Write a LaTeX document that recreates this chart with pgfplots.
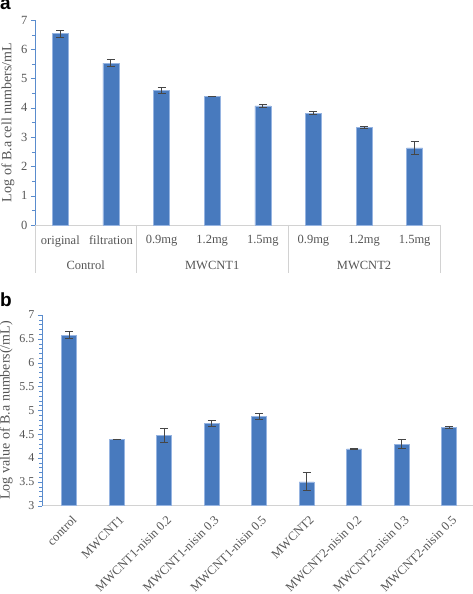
\documentclass[border=0pt]{standalone}
\usepackage{pgfplots}
\pgfplotsset{compat=1.18}
\usepackage{fontspec}
\setmainfont{Liberation Serif}
\newfontfamily\labelfont{Liberation Sans}
\definecolor{barblue}{RGB}{72,122,190}
\definecolor{baredge}{RGB}{150,180,225}
\definecolor{axblue}{RGB}{90,140,205}
\definecolor{txtgray}{RGB}{85,85,85}
\definecolor{errgray}{RGB}{70,70,70}
\definecolor{sepgray}{RGB}{210,210,210}
\begin{document}
\begin{tikzpicture}
\path[use as bounding box] (0pt,0pt) rectangle (473pt,594pt);
\node[anchor=base west,inner sep=0pt,font=\labelfont\bfseries\fontsize{19}{19}\selectfont] at (0pt,584pt) {a};
\node[anchor=base west,inner sep=0pt,font=\labelfont\bfseries\fontsize{19}{19}\selectfont] at (0pt,287pt) {b};
\pgfplotsset{
  common/.style={
    scale only axis,
    ybar, bar width=16pt,
    axis x line*=bottom, axis y line*=left,
    x axis line style={sepgray,-}, y axis line style={axblue,-},
    xtick style={draw=none},
    ytick style={axblue},
    tick align=outside,
    major tick length=4pt, minor tick length=3pt,
    tick label style={txtgray},
    /pgf/number format/assume math mode=true,
    ylabel style={txtgray},
    error bars/error bar style={errgray,line width=0.9pt},
    error bars/error mark options={rotate=90,errgray,mark size=4pt,line width=0.9pt},
  }
}
% Panel a
\begin{axis}[common,
  at={(35pt,369pt)}, anchor=south west,
  width=405pt, height=205pt,
  xmin=-0.5, xmax=7.5, ymin=0, ymax=7,
  ytick={0,1,...,7}, minor y tick num=1,
  xtick={0,...,7},
  xticklabels={original,filtration,0.9mg,1.2mg,1.5mg,0.9mg,1.2mg,1.5mg},
  xticklabel style={font=\fontsize{12.5}{12.5}\selectfont, yshift=-3pt},
  yticklabel style={font=\fontsize{12.5}{12.5}\selectfont},
  ylabel={Log of B.a cell numbers/mL},
  ylabel style={font=\fontsize{14}{14}\selectfont},
  clip=false,
]
\addplot[fill=barblue,draw=baredge,line width=0.6pt,
  error bars/.cd, y dir=both, y explicit]
  coordinates {
  (0,6.53) +- (0,0.11)
  (1,5.53) +- (0,0.11)
  (2,4.59) +- (0,0.09)
  (3,4.39) +- (0,0.01)
  (4,4.07) +- (0,0.055)
  (5,3.82) +- (0,0.06)
  (6,3.33) +- (0,0.05)
  (7,2.63) +- (0,0.21)
  };
\draw[sepgray,line width=0.8pt] (axis cs:-0.5,0) -- ++(0pt,-48pt);
\draw[sepgray,line width=0.8pt] (axis cs:1.5,0) -- ++(0pt,-48pt);
\draw[sepgray,line width=0.8pt] (axis cs:4.5,0) -- ++(0pt,-48pt);
\draw[sepgray,line width=0.8pt] (axis cs:7.5,0) -- ++(0pt,-48pt);
\node[txtgray,font=\fontsize{12.5}{12.5}\selectfont] at ([yshift=-40pt]axis cs:0.5,0) {Control};
\node[txtgray,font=\fontsize{12.5}{12.5}\selectfont] at ([yshift=-40pt]axis cs:3,0) {MWCNT1};
\node[txtgray,font=\fontsize{12.5}{12.5}\selectfont] at ([yshift=-40pt]axis cs:6,0) {MWCNT2};
\end{axis}
% Panel b
\begin{axis}[common,
  at={(42pt,88.3pt)}, anchor=south west,
  width=431pt, height=190.7pt,
  bar width=15pt,
  xmin=-0.57, xmax=8.5, ymin=3, ymax=7,
  ytick={3,3.5,...,7}, minor y tick num=4,
  minor tick length=2.5pt,
  xtick={0,...,8},
  xticklabels={control,MWCNT1,MWCNT1-nisin 0.2,MWCNT1-nisin 0.3,MWCNT1-nisin 0.5,MWCNT2,MWCNT2-nisin 0.2,MWCNT2-nisin 0.3,MWCNT2-nisin 0.5},
  xticklabel style={font=\fontsize{12.5}{12.5}\selectfont, rotate=45, anchor=north east, inner sep=1pt, xshift=-1pt, yshift=-4pt},
  yticklabel style={font=\fontsize{12}{12}\selectfont},
  ylabel={Log value of B.a numbers(/mL)},
  ylabel style={font=\fontsize{14}{14}\selectfont},
]
\addplot[fill=barblue,draw=baredge,line width=0.6pt,
  error bars/.cd, y dir=both, y explicit]
  coordinates {
  (0,6.58) +- (0,0.08)
  (1,4.39) +- (0,0.01)
  (2,4.48) +- (0,0.15)
  (3,4.72) +- (0,0.06)
  (4,4.87) +- (0,0.06)
  (5,3.50) +- (0,0.19)
  (6,4.19) +- (0,0.005)
  (7,4.29) +- (0,0.09)
  (8,4.65) +- (0,0.02)
  };
\end{axis}
\end{tikzpicture}
\end{document}
